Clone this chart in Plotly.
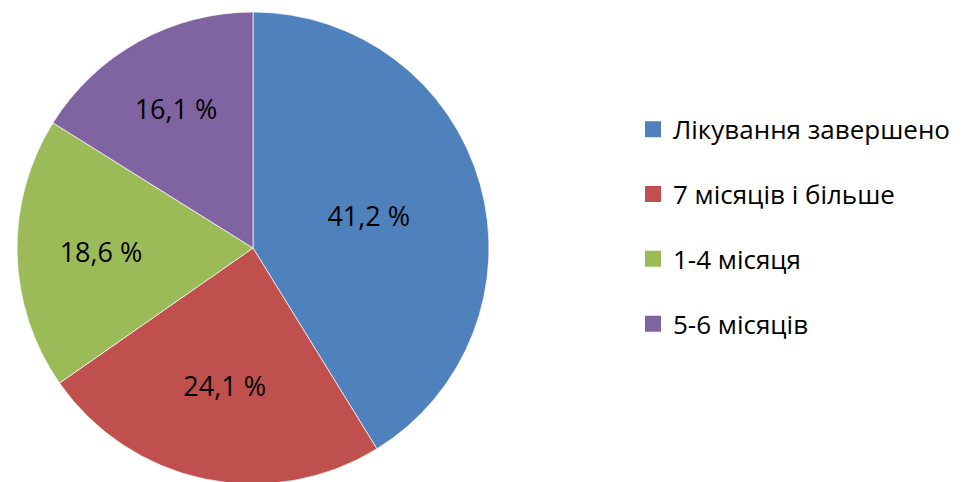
import plotly.graph_objects as go

labels = ["Лікування завершено", "7 місяців і більше", "1-4 місяця", "5-6 місяців"]
values = [41.2, 24.1, 18.6, 16.1]
colors = ["#4F81BD", "#C0504D", "#9BBB59", "#8064A2"]

FONT = "Open Sans"
W, H = 966, 482

fig = go.Figure()
fig.add_trace(go.Pie(
    labels=labels, values=values, sort=False, direction="clockwise", rotation=0,
    marker=dict(colors=colors, line=dict(color="rgba(255,255,255,0.7)", width=1)),
    texttemplate="%{value:.1f} %", textposition="inside", insidetextorientation="horizontal",
    textfont=dict(family=FONT, size=27, color="black"),
    showlegend=False, hoverinfo="label+value",
    domain=dict(x=[9/W, 481/W], y=[6/H, 1 - 4/H]),
))
for lab, col in zip(labels, colors):
    fig.add_trace(go.Scatter(
        x=[None], y=[None], mode="markers", name=lab, legendgroup=lab,
        marker=dict(symbol="square", size=18, color=col),
    ))

fig.update_layout(
    width=W, height=H, margin=dict(l=0, r=0, t=0, b=0),
    paper_bgcolor="white", plot_bgcolor="white",
    separators=", ",
    xaxis=dict(visible=False), yaxis=dict(visible=False),
    legend=dict(x=0.647, y=0.546, xanchor="left", yanchor="middle",
                font=dict(family=FONT, size=26, color="black"),
                tracegroupgap=28, itemsizing="trace"),
)
fig.write_html("out.html")
